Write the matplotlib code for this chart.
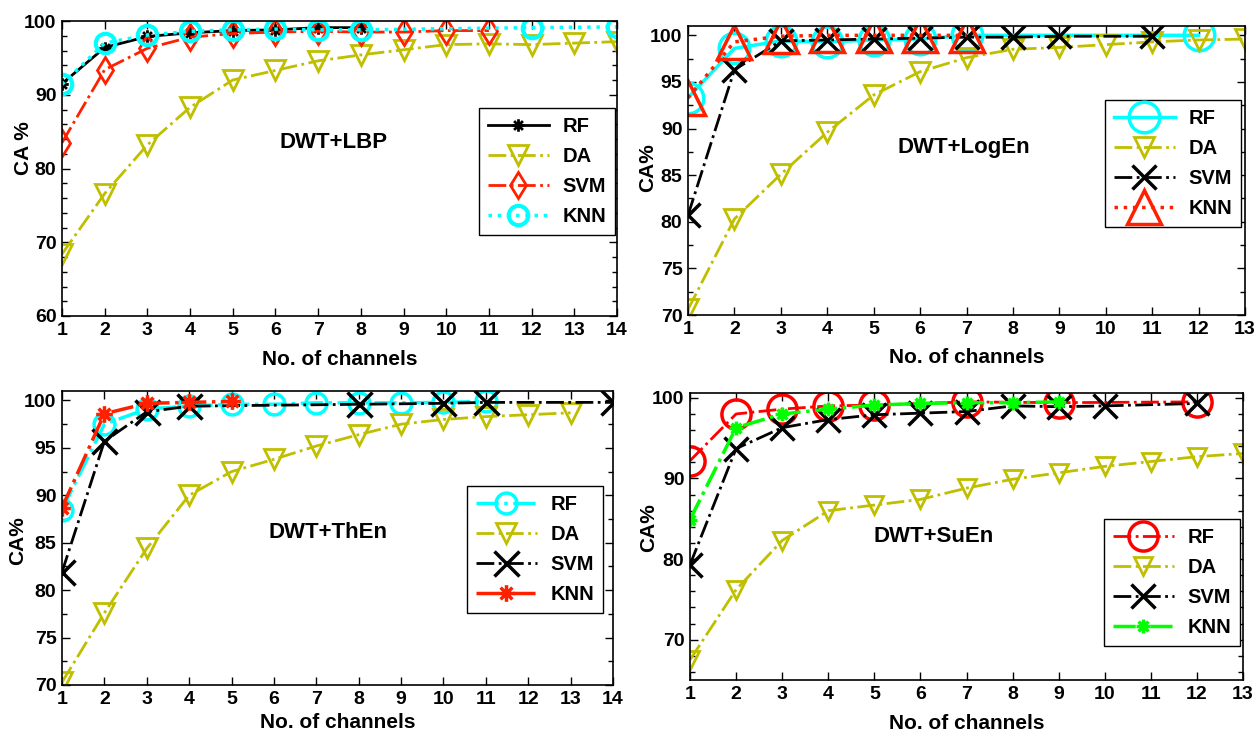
import matplotlib
matplotlib.use('Agg')
import matplotlib.pyplot as plt
import matplotlib.path as mpath
import numpy as np
from matplotlib.ticker import MultipleLocator

plt.rcParams['font.family'] = ['Liberation Sans', 'DejaVu Sans']
plt.rcParams['font.weight'] = 'bold'
plt.rcParams['axes.labelweight'] = 'bold'

# ---- data ----
# DWT+LBP
lbp_rf_x = [1, 2, 3, 4, 5, 6, 7, 8]
lbp_rf = [91.5, 96.4, 97.9, 98.4, 98.7, 98.8, 99.1, 99.1]
lbp_da_x = list(range(1, 15))
lbp_da = [68.4, 76.6, 83.2, 88.3, 92.0, 93.3, 94.6, 95.4, 96.1, 96.8, 96.9, 96.8, 97.0, 97.2]
lbp_svm_x = list(range(1, 12))
lbp_svm = [83.5, 93.4, 96.3, 97.8, 98.3, 98.5, 98.6, 98.5, 98.5, 98.7, 98.7]
lbp_knn_x = [1, 2, 3, 4, 5, 6, 7, 8, 12, 14]
lbp_knn = [91.4, 97.0, 98.1, 98.6, 98.8, 98.9, 98.8, 98.8, 99.1, 99.2]

# DWT+LogEn
log_rf_x = [1, 2, 3, 4, 5, 6, 7, 12]
log_rf = [93.3, 98.6, 99.4, 99.3, 99.5, 99.6, 100.0, 100.0]
log_da_x = list(range(1, 14))
log_da = [70.6, 80.3, 85.1, 89.6, 93.6, 96.1, 97.6, 98.5, 98.7, 99.0, 99.3, 99.5, 99.6]
log_svm_x = [1, 2, 3, 4, 5, 6, 7, 8, 9, 11]
log_svm = [80.7, 96.3, 99.4, 99.5, 99.6, 99.7, 99.8, 99.8, 99.9, 99.9]
log_knn_x = [1, 2, 3, 4, 5, 6, 7]
log_knn = [93.3, 99.3, 99.9, 100.0, 100.0, 100.0, 100.0]

# DWT+ThEn
then_rf_x = list(range(1, 12))
then_rf = [88.5, 97.5, 99.1, 99.4, 99.6, 99.6, 99.75, 99.75, 99.75, 99.8, 99.9]
then_da_x = list(range(1, 14))
then_da = [70.3, 77.6, 84.4, 90.0, 92.5, 93.8, 95.2, 96.4, 97.5, 98.0, 98.3, 98.5, 98.7]
then_svm_x = [1, 2, 3, 4, 8, 10, 11, 14]
then_svm = [81.9, 95.7, 98.8, 99.4, 99.6, 99.7, 99.8, 99.8]
then_knn_x = [1, 2, 3, 4, 5]
then_knn = [88.7, 98.6, 99.7, 99.8, 99.9]

# DWT+SuEn
suen_rf_x = [1, 2, 3, 4, 5, 7, 9, 12]
suen_rf = [92.2, 98.0, 98.6, 99.0, 99.1, 99.5, 99.4, 99.5]
suen_da_x = list(range(1, 14))
suen_da = [67.5, 76.2, 82.3, 86.0, 86.7, 87.4, 88.8, 89.9, 90.7, 91.5, 92.1, 92.7, 93.1]
suen_svm_x = [1, 2, 3, 4, 5, 6, 7, 8, 9, 10, 12]
suen_svm = [79.3, 93.7, 96.3, 97.3, 97.9, 98.1, 98.3, 99.0, 98.9, 99.0, 99.3]
suen_knn_x = [1, 2, 3, 4, 5, 6, 7, 8, 9]
suen_knn = [84.9, 96.3, 98.0, 98.6, 99.1, 99.3, 99.4, 99.4, 99.5]

# matlab-style asterisk marker (open line segments)
verts, codes = [], []
for ang in [0, 45, 90, 135]:
    a = np.deg2rad(ang)
    verts += [(-np.cos(a), -np.sin(a)), (np.cos(a), np.sin(a))]
    codes += [mpath.Path.MOVETO, mpath.Path.LINETO]
star = mpath.Path(verts, codes)

CYAN = '#00FFFF'
OLIVE = '#BFBF00'
RED = '#FF2000'
GREEN = '#00FF00'

fig = plt.figure(figsize=(12.6, 7.36), dpi=100)

W, H = 1260, 736


def make_ax(l, r, t, b):
    return fig.add_axes([l / W, 1 - b / H, (r - l) / W, (b - t) / H])


def style(ax, xmax, ylim, major, minor, ylab, ylab_xy, xlab_y):
    ax.set_xlim(1, xmax)
    ax.set_ylim(*ylim)
    ax.set_xticks(range(1, xmax + 1))
    ax.yaxis.set_major_locator(MultipleLocator(major))
    ax.yaxis.set_minor_locator(MultipleLocator(minor))
    ax.tick_params(which='both', direction='in', top=True, right=True,
                   labelsize=14, width=1, pad=4)
    ax.tick_params(which='major', length=6)
    ax.tick_params(which='minor', length=3.5)
    for s in ax.spines.values():
        s.set_linewidth(1.2)
    ax.set_ylabel(ylab, fontsize=15)
    ax.yaxis.set_label_coords(*ylab_xy)
    ax.set_xlabel('No. of channels', fontsize=15)
    ax.xaxis.set_label_coords(0.5, xlab_y)


def legend(ax, x, y):
    leg = ax.legend(loc='upper left', bbox_to_anchor=(x / W, 1 - y / H),
                    bbox_transform=fig.transFigure, fontsize=14.5, numpoints=1,
                    handlelength=3.0, handletextpad=0.7, labelspacing=0.55,
                    borderpad=0.45, fancybox=False, framealpha=1)
    leg.get_frame().set_edgecolor('black')
    leg.get_frame().set_linewidth(1)


# ---- panel 1: DWT+LBP ----
ax1 = make_ax(62, 617, 21, 316)
ax1.plot(lbp_rf_x, lbp_rf, '-', color='black', lw=2, marker=star, ms=9, mfc='none', mew=2, label='RF')
ax1.plot(lbp_da_x, lbp_da, '-.', color=OLIVE, lw=2, marker='v', ms=14, mfc='none', mew=2, label='DA')
ax1.plot(lbp_svm_x, lbp_svm, '-.', color=RED, lw=2, marker='d', ms=13, mfc='none', mew=2, label='SVM')
ax1.plot(lbp_knn_x, lbp_knn, ':', color=CYAN, lw=2.5, marker='o', ms=14, mfc='none', mew=3, label='KNN')
style(ax1, 14, (60, 100), 10, 2, 'CA %', (-0.052, 0.57), -0.115)
legend(ax1, 469, 98)
fig.text(334 / W, 1 - 143 / H, 'DWT+LBP', fontsize=16, ha='center', va='center')

# ---- panel 2: DWT+LogEn ----
ax2 = make_ax(688, 1245, 26, 315)
ax2.plot(log_rf_x, log_rf, '-', color=CYAN, lw=2.5, marker='o', ms=22, mfc='none', mew=2.5, label='RF')
ax2.plot(log_da_x, log_da, '-.', color=OLIVE, lw=2, marker='v', ms=14, mfc='none', mew=2, label='DA')
ax2.plot(log_svm_x, log_svm, '-.', color='black', lw=2, marker='x', ms=17, mew=2.5, label='SVM')
ax2.plot(log_knn_x, log_knn, ':', color=RED, lw=2.5, marker='^', ms=24, mfc='none', mew=2.5, label='KNN')
style(ax2, 13, (70, 101), 5, 2.5, 'CA%', (-0.056, 0.51), -0.113)
legend(ax2, 1095, 90)
fig.text(964 / W, 1 - 147 / H, 'DWT+LogEn', fontsize=16, ha='center', va='center')

# ---- panel 3: DWT+ThEn ----
ax3 = make_ax(62, 613, 391, 685)
ax3.plot(then_rf_x, then_rf, '-.', color=CYAN, lw=2.5, marker='o', ms=15, mfc='none', mew=2.5, label='RF')
ax3.plot(then_da_x, then_da, '-.', color=OLIVE, lw=2, marker='v', ms=14, mfc='none', mew=2, label='DA')
ax3.plot(then_svm_x, then_svm, '-.', color='black', lw=2, marker='x', ms=18, mew=2.5, label='SVM')
ax3.plot(then_knn_x, then_knn, '-.', color=RED, lw=2.5, marker=star, ms=12, mfc='none', mew=2.5, label='KNN')
style(ax3, 14, (70, 101), 5, 2.5, 'CA%', (-0.064, 0.49), -0.095)
legend(ax3, 457, 476)
fig.text(328 / W, 1 - 533 / H, 'DWT+ThEn', fontsize=16, ha='center', va='center')

# ---- panel 4: DWT+SuEn ----
ax4 = make_ax(690, 1243, 393, 680)
ax4.plot(suen_rf_x, suen_rf, '-.', color='#FF0000', lw=2, marker='o', ms=21, mfc='none', mew=2.5, label='RF')
ax4.plot(suen_da_x, suen_da, '-.', color=OLIVE, lw=2, marker='v', ms=13, mfc='none', mew=2, label='DA')
ax4.plot(suen_svm_x, suen_svm, '-.', color='black', lw=2, marker='x', ms=17, mew=2.5, label='SVM')
ax4.plot(suen_knn_x, suen_knn, '-.', color=GREEN, lw=2.5, marker=star, ms=10, mfc='none', mew=2.5, label='KNN')
style(ax4, 13, (65, 100.6), 10, 2, 'CA%', (-0.058, 0.53), -0.12)
legend(ax4, 1094, 509)
fig.text(934 / W, 1 - 537 / H, 'DWT+SuEn', fontsize=16, ha='center', va='center')

fig.savefig('out.png', dpi=100)
